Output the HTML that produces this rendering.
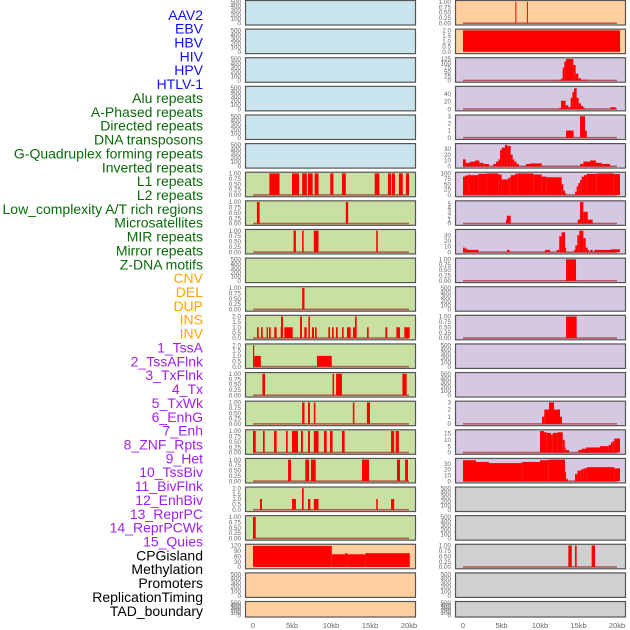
<!DOCTYPE html>
<html><head><meta charset="utf-8"><style>
html,body{margin:0;padding:0;background:#fff;}
svg{display:block;font-family:"Liberation Sans",sans-serif;}
</style></head><body>
<svg id="chart" width="630" height="630" viewBox="0 0 630 630"></svg>
<script>
// ---- track labels ----
const labels = ["AAV2","EBV","HBV","HIV","HPV","HTLV-1","Alu repeats","A-Phased repeats","Directed repeats","DNA transposons","G-Quadruplex forming repeats","Inverted repeats","L1 repeats","L2 repeats","Low_complexity A/T rich regions","Microsatellites","MIR repeats","Mirror repeats","Z-DNA motifs","CNV","DEL","DUP","INS","INV","1_TssA","2_TssAFlnk","3_TxFlnk","4_Tx","5_TxWk","6_EnhG","7_Enh","8_ZNF_Rpts","9_Het","10_TssBiv","11_BivFlnk","12_EnhBiv","13_ReprPC","14_ReprPCWk","15_Quies","CPGisland","Methylation","Promoters","ReplicationTiming","TAD_boundary"];
const labelGroups = ["v","v","v","v","v","v","r","r","r","r","r","r","r","r","r","r","r","r","r","s","s","s","s","s","c","c","c","c","c","c","c","c","c","c","c","c","c","c","c","k","k","k","k","k"];
// ---- x axis ----
const xTicks = [0,5,10,15,20];
const xTickLabels = ["0","5kb","10kb","15kb","20kb"];
// ---- tick label sets ----
const ticksEmpty = [0,100,200,300,400,500];
const ticksOne = [0,0.25,0.5,0.75,1];
const ticksOneLbl = ["0.00","0.25","0.50","0.75","1.00"];
const ticksTwo = [0,0.5,1,1.5,2];
const ticksTwoLbl = ["0.0","0.5","1.0","1.5","2.0"];
// ---- left column data: [startKb, endKb, value] ----
const leftL1 = [[2.1,3.4,1],[5.0,5.9,1],[6.3,6.9,1],[7.05,7.65,1],[7.9,8.4,1],[9.9,10.3,1],[11.4,11.9,1],[15.6,16.2,1],[17.3,17.7,1],[17.8,18.2,1],[18.7,19.2,1],[19.6,20.0,1]];
const leftR7 = [[0.5,0.85,1],[11.9,12.2,1]];
const leftR8 = [[5.2,5.5,1],[6.3,6.5,1],[7.8,8.4,1],[15.8,16.0,1]];
const leftR10 = [[6.3,6.6,1]];
const leftR11 = [[0.51,0.73,1],[1.03,1.24,1],[1.75,1.92,1],[2.05,2.27,1],[2.73,3.03,1],[3.55,3.6,1],[3.6,3.85,2],[4.02,5.09,1],[6.03,6.28,2],[6.58,6.88,1],[7.1,7.3,2],[7.56,7.82,1],[7.95,8.16,1],[9.66,9.87,1],[10.13,10.34,1],[10.64,10.86,1],[11.41,11.62,1],[12.05,12.52,1],[12.82,13.08,1],[13.08,13.29,2],[14.62,14.83,1],[16.97,17.22,1],[18.38,18.85,1],[19.4,20.09,1]];
const leftR12 = [[0,0.15,2],[0.15,1.0,1],[8.2,10.1,1]];
const leftR13 = [[1.2,1.54,1],[10.2,10.4,1],[10.65,11.4,1],[19.15,19.7,1]];
const leftR14 = [[6.3,6.6,1],[7.05,7.3,1],[7.8,8.0,1],[12.8,13.0,1],[14.6,15.0,1]];
const leftR15 = [[0,0.35,1],[1.28,1.5,1],[2.7,3.03,1],[4.23,4.45,1],[5.0,5.77,1],[6.15,6.4,1],[7.05,7.3,1],[7.8,8.4,1],[9.1,9.45,1],[9.87,10.2,1],[11.4,11.75,1],[17.7,18.1,1],[18.3,18.7,1]];
const leftR16 = [[4.5,4.87,1],[6.7,7.18,1],[7.43,8.04,1],[13.97,14.87,1],[18.46,18.85,1],[19.5,19.87,1]];
const leftR17 = [[0.9,1.15,1],[5.0,5.5,1],[6.28,6.5,2],[7.05,7.35,1],[7.8,8.4,1],[15.8,16.0,1],[17.7,18.1,1]];
const leftR18 = [[0,0.35,1]];
const leftCpg = [[0,10.1,118],[10.1,11.8,71],[11.8,12.1,77],[12.1,14.4,71],[14.4,20.1,77]];
// ---- right column data ----
const rightR0 = [[6.8,6.9,1],[8.3,8.4,1]];
const rightHBV = [[0,20.4,2]];
const rightR2 = [[12.38,12.73,3],[12.73,12.94,10],[12.94,13.16,75],[13.16,13.38,110],[13.38,14.33,125],[14.33,14.63,90],[14.63,14.98,40],[14.98,15.33,12],[15.33,16.07,4]];
const rightR3 = [[12.5,12.73,3],[12.73,13.33,22],[13.33,13.68,10],[13.68,13.98,5],[13.98,14.2,30],[14.2,14.42,45],[14.42,14.76,55],[14.76,15.02,30],[15.02,15.32,15],[15.32,15.63,8],[15.63,15.84,3],[19.17,19.82,5]];
const rightR4 = [[13.38,14.37,1],[15.2,15.84,3],[15.84,16.07,1]];
const rightR5 = [[0,0.35,12],[0.35,0.91,6],[0.91,1.56,8],[1.56,2.12,10],[2.12,2.64,6],[2.64,3.38,4],[3.94,4.29,4],[4.29,4.59,8],[4.59,4.81,12],[4.81,5.02,28],[5.02,5.45,32],[5.45,5.76,37],[5.76,6.19,35],[6.19,6.45,20],[6.45,6.67,12],[6.67,6.97,8],[6.97,7.27,4],[8.18,8.7,4],[8.7,10.22,5],[15.2,15.63,4],[15.63,16.5,8],[16.5,17.27,10],[17.27,18.01,6],[18.01,19.1,4]];
const rightR6 = [[0,0.26,85],[0.26,0.69,90],[0.69,0.91,95],[0.91,1.99,92],[1.99,3.07,98],[3.07,4.59,100],[4.59,5.02,95],[5.02,5.89,72],[5.89,6.19,80],[6.19,6.75,92],[6.75,7.1,98],[7.1,9.13,100],[9.13,10.22,95],[10.22,10.87,85],[10.87,12.81,82],[12.81,13.03,50],[13.03,13.25,20],[13.25,13.38,8],[14.55,14.76,15],[14.76,14.98,40],[14.98,15.2,55],[15.2,15.41,70],[15.41,15.71,85],[15.71,16.06,92],[16.06,17.36,98],[17.36,19.52,100],[19.52,20.39,97]];
const rightR7 = [[5.58,5.71,1],[5.71,6.19,2],[14.9,15.2,1],[15.2,15.63,5.5],[15.63,16.2,3],[16.2,16.84,1]];
const rightR8 = [[0,0.3,8],[0.3,0.6,6],[0.6,2.03,4],[5.71,6.05,4],[10.65,11.3,4],[12.17,12.5,4],[12.5,12.81,28],[12.81,13.25,35],[13.25,13.38,8],[14.42,14.59,4],[14.59,14.85,12],[14.85,15.1,30],[15.1,15.63,38],[15.63,15.93,25],[15.93,16.19,8],[16.19,16.36,4],[16.5,16.84,4],[17.06,19.22,4],[19.22,20.39,5]];
const rightR9 = [[13.38,14.68,1]];
const rightR11 = [[13.38,14.76,1]];
const rightR14 = [[10.26,10.56,1],[10.56,11.17,2],[11.17,11.82,3],[11.82,12.6,2],[12.6,12.86,1]];
const rightR15 = [[10.0,10.52,17],[10.52,10.87,16],[10.87,11.43,15.5],[11.43,11.65,14],[11.65,12.26,15.5],[12.26,12.95,16],[12.95,13.21,10],[13.21,13.34,4],[13.34,13.77,2],[14.98,15.41,2],[15.41,15.97,3],[15.97,17.79,4],[17.79,18.92,5],[18.92,19.22,6],[19.22,19.44,8],[19.44,19.65,9],[19.65,20.39,11]];
const rightR16 = [[0,1.69,36],[1.69,3.38,33],[3.38,7.53,31],[7.53,7.75,32],[7.75,10.0,33],[10.0,11.08,36],[11.08,13.25,37],[13.25,13.38,16],[13.38,13.6,4],[14.55,14.85,12],[14.85,15.28,18],[15.28,15.63,20],[15.63,16.06,22],[16.06,19.65,24],[19.65,20.39,22]];
const rightR19 = [[13.68,14.12,1],[14.55,14.76,1],[16.71,17.14,1]];

const BG = {b:"#c9e4ec", o:"#ffd09e", p:"#d5c8e3", g:"#c8e1a3", k:"#d0d0d0"};
const E = {ymax:500, t:ticksEmpty, tl:ticksEmpty.map(String), d:null};
function P(bg,d,ymax,t,tl,base){return {bg:bg,d:d,ymax:ymax,t:t,tl:tl||t.map(String),base:base!==false};}
const left = [
 Object.assign({bg:"b"},E),Object.assign({bg:"b"},E),Object.assign({bg:"b"},E),Object.assign({bg:"b"},E),Object.assign({bg:"b"},E),Object.assign({bg:"b"},E),
 P("g",leftL1,1,ticksOne,ticksOneLbl),P("g",leftR7,1,ticksOne,ticksOneLbl),P("g",leftR8,1,ticksOne,ticksOneLbl),
 Object.assign({bg:"g"},E),
 P("g",leftR10,1,ticksOne,ticksOneLbl),P("g",leftR11,2,ticksTwo,ticksTwoLbl),P("g",leftR12,2,ticksTwo,ticksTwoLbl),
 P("g",leftR13,1,ticksOne,ticksOneLbl),P("g",leftR14,1,ticksOne,ticksOneLbl),P("g",leftR15,1,ticksOne,ticksOneLbl),
 P("g",leftR16,1,ticksOne,ticksOneLbl),P("g",leftR17,2,ticksTwo,ticksTwoLbl),P("g",leftR18,1,ticksOne,ticksOneLbl),
 P("o",leftCpg,120,[0,30,60,90,120],null,false),Object.assign({bg:"o"},E),Object.assign({bg:"o"},E)];
const right = [
 P("o",rightR0,1,ticksOne,ticksOneLbl),P("o",rightHBV,2,ticksTwo,ticksTwoLbl,false),
 P("p",rightR2,125,[0,25,50,75,100,125]),P("p",rightR3,57,[0,20,40]),P("p",rightR4,3,[0,1,2,3]),
 P("p",rightR5,37,[0,10,20,30]),P("p",rightR6,100,[0,25,50,75,100]),P("p",rightR7,5.5,[0,1,2,3,4,5]),
 P("p",rightR8,38,[0,10,20,30]),P("p",rightR9,1,ticksOne,ticksOneLbl),Object.assign({bg:"p"},E),
 P("p",rightR11,1,ticksOne,ticksOneLbl),Object.assign({bg:"p"},E),Object.assign({bg:"p"},E),
 P("p",rightR14,3,[0,1,2,3]),P("p",rightR15,17,[0,5,10,15]),P("p",rightR16,37,[0,10,20,30]),
 Object.assign({bg:"k"},E),Object.assign({bg:"k"},E),P("k",rightR19,1,ticksOne,ticksOneLbl),
 Object.assign({bg:"k"},E),Object.assign({bg:"k"},E)];

const NS="http://www.w3.org/2000/svg";
const svg=document.getElementById("chart");
function mk(tag,attrs,parent){const e=document.createElementNS(NS,tag);for(const k in attrs)e.setAttribute(k,attrs[k]);(parent||svg).appendChild(e);return e;}

// labels
const gcol={v:"#1010f0",r:"#0a6a0a",s:"#ffa500",c:"#a020f0",k:"#000"};
const lab = mk("g",{});


labels.forEach((t,i)=>{
  const y=15+i*(596/43)+4.8;
  const e=mk("text",{x:203,y:y,"text-anchor":"end","font-size":"14",fill:gcol[labelGroups[i]]},lab);
  e.textContent=t;
  
  
});

const cols=[{x0:245,x1:416,k0:253,k20:409,panels:left,name:"left"},{x0:455,x1:626,k0:463,k20:617,panels:right,name:"right"}];
cols.forEach(c=>{
  const xs=kb=>c.k0+(c.k20-c.k0)*kb/20;
  c.panels.forEach((p,i)=>{
    const top=0.5+28.62*i, h=(i===21)?15.5:24.5;
    const g=mk("g",{});
    
    
    mk("rect",{x:c.x0+0.5,y:top,width:c.x1-c.x0-1,height:h,fill:BG[p.bg],stroke:"#555","stroke-width":1.2},g);
    const yb=top+h-1.8, yt=top+1.2;
    const ys=v=>yb-(yb-yt)*v/p.ymax;
    if(p.d){
      if(p.base){const bl=mk("rect",{x:xs(0),y:ys(0)-0.8,width:xs(20)-xs(0),height:1.6,fill:"rgba(170,40,40,0.7)"},g);
        
        }
      p.d.forEach(s=>{
        const x=xs(s[0]), w=Math.max(1,xs(s[1])-xs(s[0]));
        const r=mk("rect",{x:x,y:ys(s[2]),width:w,height:ys(0)-ys(s[2]),fill:"#ff0000"},g);
        
        
      });
    }
    p.t.forEach((v,j)=>{
      const e=mk("text",{x:c.x0-4,y:ys(v)+2.2,"text-anchor":"end","font-size":"6.3",fill:"#666"},g);
      e.textContent=p.tl[j];
      
      
    });
  });
  xTicks.forEach((v,j)=>{
    const e=mk("text",{x:xs(v),y:628,"text-anchor":"middle","font-size":"7.5",fill:"#666"});
    e.textContent=xTickLabels[j];
    
    
  });
});
</script>
</body></html>
